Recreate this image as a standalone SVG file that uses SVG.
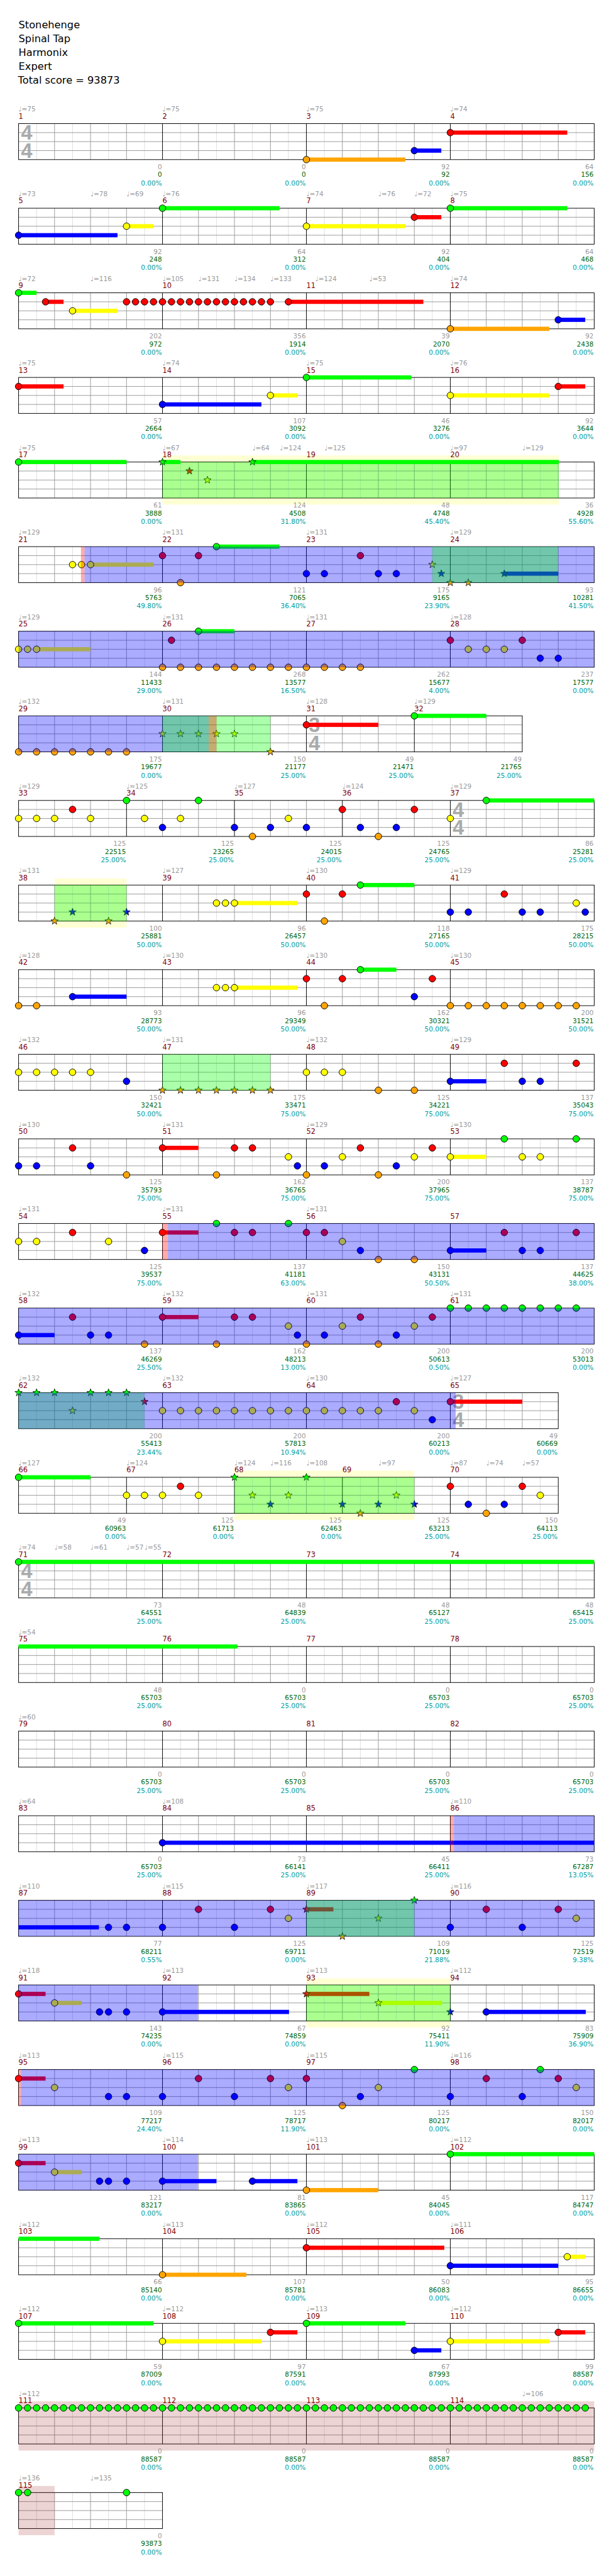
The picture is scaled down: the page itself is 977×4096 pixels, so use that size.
<svg xmlns="http://www.w3.org/2000/svg" width="977" height="4096" viewBox="0 0 977 4096">
<style>
.tt{font-family:"DejaVu Sans",sans-serif;font-size:17px;fill:#000}
.tp{font-family:"DejaVu Sans",sans-serif;font-size:11px;fill:#999}
.mn{font-family:"DejaVu Sans",sans-serif;font-size:12px;fill:#800000}
.sc{font-family:"DejaVu Sans",sans-serif;font-size:11px;text-anchor:end}
.g1{fill:#999}.g2{fill:#006400}.g3{fill:#009c9c}
.ts{font-family:"Liberation Sans",sans-serif;font-size:34px;font-weight:bold;fill:#aaa}
.bG{fill:#0f0}.bR{fill:#f00}.bY{fill:#ff0}.bB{fill:#00f}.bO{fill:#ffa500}
.ob{fill:#00f;fill-opacity:.33}.og{fill:#0f0;fill-opacity:.33}.or{fill:#f00;fill-opacity:.33}
.yl{fill:#ffffd4}.pk{fill:#a52a2a;fill-opacity:.2}
</style>
<defs>
<circle id="nG" r="5.5" fill="#0f0" stroke="#000"/>
<circle id="nR" r="5.5" fill="#f00" stroke="#000"/>
<circle id="nY" r="5.5" fill="#ff0" stroke="#000"/>
<circle id="nB" r="5.5" fill="#00f" stroke="#000"/>
<circle id="nO" r="5.5" fill="#ffa500" stroke="#000"/>
<path id="st" d="M0,-6.5L1.53,-2.1L6.18,-2.01L2.47,0.8L3.82,5.26L0,2.6L-3.82,5.26L-2.47,0.8L-6.18,-2.01L-1.53,-2.1Z" stroke="#000" stroke-width="0.8"/>
<use id="sG" href="#st" fill="#0f0"/>
<use id="sR" href="#st" fill="#f00"/>
<use id="sY" href="#st" fill="#ff0"/>
<use id="sB" href="#st" fill="#00f"/>
<use id="sO" href="#st" fill="#ffa500"/>
<g id="g4">
<path d="M30,0V60M90,0V60M150,0V60M210,0V60" stroke="#ddd"/>
<path d="M60,0V60M120,0V60M180,0V60M0,15H240M0,30H240M0,45H240" stroke="#999"/>
</g>
<g id="g3">
<path d="M30,0V60M90,0V60M150,0V60" stroke="#ddd"/>
<path d="M60,0V60M120,0V60M0,15H180M0,30H180M0,45H180" stroke="#999"/>
</g>
<g id="row4">
<use href="#g4"/><use href="#g4" x="240"/><use href="#g4" x="480"/><use href="#g4" x="720"/>
<path d="M240,0V60M480,0V60M720,0V60" stroke="#000"/>
<rect width="960" height="60" fill="none" stroke="#000"/>
</g>
</defs>
<rect width="977" height="4096" fill="#fff"/>
<g transform="scale(0.9541)">
<g id="title" class="tt">
<text x="31" y="47">Stonehenge</text>
<text x="31" y="70">Spinal Tap</text>
<text x="31" y="93">Harmonix</text>
<text x="31" y="116">Expert</text>
<text x="30" y="139">Total score = 93873</text>
</g>

<g id="row1" transform="translate(0,206)">
<use href="#row4" x="31"/>
<text class="ts" x="35" y="27">4</text><text class="ts" x="35" y="57">4</text>
<text class="tp" y="-20"><tspan x="31">♩=75</tspan><tspan x="271">♩=75</tspan><tspan x="511">♩=75</tspan><tspan x="751">♩=74</tspan></text>
<text class="mn" y="-8"><tspan x="31">1</tspan><tspan x="271">2</tspan><tspan x="511">3</tspan><tspan x="751">4</tspan></text>
<rect class="bO" x="511" y="56.5" width="165" height="7"/><use href="#nO" x="511" y="60"/>
<rect class="bB" x="691" y="41.5" width="45" height="7"/><use href="#nB" x="691" y="45"/>
<rect class="bR" x="751" y="11.5" width="195" height="7"/><use href="#nR" x="751" y="15"/>
<text class="sc"><tspan class="g1" x="270" y="76">0</tspan><tspan class="g2" x="270" y="89">0</tspan><tspan class="g3" x="270" y="103">0.00%</tspan><tspan class="g1" x="510" y="76">0</tspan><tspan class="g2" x="510" y="89">0</tspan><tspan class="g3" x="510" y="103">0.00%</tspan><tspan class="g1" x="750" y="76">92</tspan><tspan class="g2" x="750" y="89">92</tspan><tspan class="g3" x="750" y="103">0.00%</tspan><tspan class="g1" x="990" y="76">64</tspan><tspan class="g2" x="990" y="89">156</tspan><tspan class="g3" x="990" y="103">0.00%</tspan></text>
</g>

<g id="row2" transform="translate(0,347)">
<use href="#row4" x="31"/>
<text class="tp" y="-20"><tspan x="31">♩=73</tspan><tspan x="151">♩=78</tspan><tspan x="211">♩=69</tspan><tspan x="271">♩=76</tspan><tspan x="511">♩=74</tspan><tspan x="631">♩=76</tspan><tspan x="691">♩=72</tspan><tspan x="751">♩=75</tspan></text>
<text class="mn" y="-8"><tspan x="31">5</tspan><tspan x="271">6</tspan><tspan x="511">7</tspan><tspan x="751">8</tspan></text>
<rect class="bB" x="31" y="41.5" width="165" height="7"/><use href="#nB" x="31" y="45"/>
<rect class="bY" x="211" y="26.5" width="45" height="7"/><use href="#nY" x="211" y="30"/>
<rect class="bG" x="271" y="-3.5" width="195" height="7"/><use href="#nG" x="271" y="0"/>
<rect class="bY" x="511" y="26.5" width="165" height="7"/><use href="#nY" x="511" y="30"/>
<rect class="bR" x="691" y="11.5" width="45" height="7"/><use href="#nR" x="691" y="15"/>
<rect class="bG" x="751" y="-3.5" width="195" height="7"/><use href="#nG" x="751" y="0"/>
<text class="sc"><tspan class="g1" x="270" y="76">92</tspan><tspan class="g2" x="270" y="89">248</tspan><tspan class="g3" x="270" y="103">0.00%</tspan><tspan class="g1" x="510" y="76">64</tspan><tspan class="g2" x="510" y="89">312</tspan><tspan class="g3" x="510" y="103">0.00%</tspan><tspan class="g1" x="750" y="76">92</tspan><tspan class="g2" x="750" y="89">404</tspan><tspan class="g3" x="750" y="103">0.00%</tspan><tspan class="g1" x="990" y="76">64</tspan><tspan class="g2" x="990" y="89">468</tspan><tspan class="g3" x="990" y="103">0.00%</tspan></text>
</g>

<g id="row3" transform="translate(0,488)">
<use href="#row4" x="31"/>
<text class="tp" y="-20"><tspan x="31">♩=72</tspan><tspan x="151">♩=116</tspan><tspan x="271">♩=105</tspan><tspan x="331">♩=131</tspan><tspan x="391">♩=134</tspan><tspan x="451">♩=133</tspan><tspan x="526">♩=124</tspan><tspan x="616">♩=53</tspan><tspan x="751">♩=74</tspan></text>
<text class="mn" y="-8"><tspan x="31">9</tspan><tspan x="271">10</tspan><tspan x="511">11</tspan><tspan x="751">12</tspan></text>
<rect class="bG" x="31" y="-3.5" width="30" height="7"/><use href="#nG" x="31" y="0"/>
<rect class="bR" x="76" y="11.5" width="30" height="7"/><use href="#nR" x="76" y="15"/>
<rect class="bY" x="121" y="26.5" width="75" height="7"/><use href="#nY" x="121" y="30"/>
<use href="#nR" x="211" y="15"/><use href="#nR" x="226" y="15"/><use href="#nR" x="241" y="15"/><use href="#nR" x="256" y="15"/><use href="#nR" x="271" y="15"/><use href="#nR" x="286" y="15"/><use href="#nR" x="301" y="15"/><use href="#nR" x="316" y="15"/><use href="#nR" x="331" y="15"/><use href="#nR" x="346" y="15"/><use href="#nR" x="361" y="15"/><use href="#nR" x="376" y="15"/><use href="#nR" x="391" y="15"/><use href="#nR" x="406" y="15"/><use href="#nR" x="421" y="15"/><use href="#nR" x="436" y="15"/><use href="#nR" x="451" y="15"/>
<rect class="bR" x="481" y="11.5" width="225" height="7"/><use href="#nR" x="481" y="15"/>
<rect class="bO" x="751" y="56.5" width="165" height="7"/><use href="#nO" x="751" y="60"/>
<rect class="bB" x="931" y="41.5" width="45" height="7"/><use href="#nB" x="931" y="45"/>
<text class="sc"><tspan class="g1" x="270" y="76">202</tspan><tspan class="g2" x="270" y="89">972</tspan><tspan class="g3" x="270" y="103">0.00%</tspan><tspan class="g1" x="510" y="76">356</tspan><tspan class="g2" x="510" y="89">1914</tspan><tspan class="g3" x="510" y="103">0.00%</tspan><tspan class="g1" x="750" y="76">39</tspan><tspan class="g2" x="750" y="89">2070</tspan><tspan class="g3" x="750" y="103">0.00%</tspan><tspan class="g1" x="990" y="76">92</tspan><tspan class="g2" x="990" y="89">2438</tspan><tspan class="g3" x="990" y="103">0.00%</tspan></text>
</g>

<g id="row4r" transform="translate(0,629)">
<use href="#row4" x="31"/>
<text class="tp" y="-20"><tspan x="31">♩=75</tspan><tspan x="271">♩=74</tspan><tspan x="511">♩=75</tspan><tspan x="751">♩=76</tspan></text>
<text class="mn" y="-8"><tspan x="31">13</tspan><tspan x="271">14</tspan><tspan x="511">15</tspan><tspan x="751">16</tspan></text>
<rect class="bR" x="31" y="11.5" width="75" height="7"/><use href="#nR" x="31" y="15"/>
<rect class="bB" x="271" y="41.5" width="165" height="7"/><use href="#nB" x="271" y="45"/>
<rect class="bY" x="451" y="26.5" width="45" height="7"/><use href="#nY" x="451" y="30"/>
<rect class="bG" x="511" y="-3.5" width="175" height="7"/><use href="#nG" x="511" y="0"/>
<rect class="bY" x="751" y="26.5" width="165" height="7"/><use href="#nY" x="751" y="30"/>
<rect class="bR" x="931" y="11.5" width="45" height="7"/><use href="#nR" x="931" y="15"/>
<text class="sc"><tspan class="g1" x="270" y="76">57</tspan><tspan class="g2" x="270" y="89">2664</tspan><tspan class="g3" x="270" y="103">0.00%</tspan><tspan class="g1" x="510" y="76">107</tspan><tspan class="g2" x="510" y="89">3092</tspan><tspan class="g3" x="510" y="103">0.00%</tspan><tspan class="g1" x="750" y="76">46</tspan><tspan class="g2" x="750" y="89">3276</tspan><tspan class="g3" x="750" y="103">0.00%</tspan><tspan class="g1" x="990" y="76">92</tspan><tspan class="g2" x="990" y="89">3644</tspan><tspan class="g3" x="990" y="103">0.00%</tspan></text>
</g>

<g id="row5" transform="translate(0,770)">
<rect class="yl" x="271" y="-11" width="661" height="82"/>
<use href="#row4" x="31"/>
<text class="tp" y="-20"><tspan x="31">♩=75</tspan><tspan x="271">♩=67</tspan><tspan x="421">♩=64</tspan><tspan x="467">♩=124</tspan><tspan x="541">♩=125</tspan><tspan x="751">♩=97</tspan><tspan x="871">♩=129</tspan></text>
<text class="mn" y="-8"><tspan x="31">17</tspan><tspan x="271">18</tspan><tspan x="511">19</tspan><tspan x="751">20</tspan></text>
<rect class="bG" x="31" y="-3.5" width="180" height="7"/><use href="#nG" x="31" y="0"/>
<rect class="bG" x="271" y="-3.5" width="30" height="7"/><use href="#sG" x="271" y="0"/>
<use href="#sR" x="316" y="15"/><use href="#sY" x="346" y="30"/>
<rect class="bG" x="421" y="-3.5" width="511" height="7"/><use href="#sG" x="421" y="0"/>
<rect class="og" x="271" y="0" width="661" height="60"/>
<text class="sc"><tspan class="g1" x="270" y="76">61</tspan><tspan class="g2" x="270" y="89">3888</tspan><tspan class="g3" x="270" y="103">0.00%</tspan><tspan class="g1" x="510" y="76">124</tspan><tspan class="g2" x="510" y="89">4508</tspan><tspan class="g3" x="510" y="103">31.80%</tspan><tspan class="g1" x="750" y="76">48</tspan><tspan class="g2" x="750" y="89">4748</tspan><tspan class="g3" x="750" y="103">45.40%</tspan><tspan class="g1" x="990" y="76">36</tspan><tspan class="g2" x="990" y="89">4928</tspan><tspan class="g3" x="990" y="103">55.60%</tspan></text>
</g>

<g id="row6" transform="translate(0,911)">
<use href="#row4" x="31"/>
<text class="tp" y="-20"><tspan x="31">♩=129</tspan><tspan x="271">♩=131</tspan><tspan x="511">♩=131</tspan><tspan x="751">♩=129</tspan></text>
<text class="mn" y="-8"><tspan x="31">21</tspan><tspan x="271">22</tspan><tspan x="511">23</tspan><tspan x="751">24</tspan></text>
<use href="#nY" x="121" y="30"/><use href="#nY" x="136" y="30"/>
<rect class="bY" x="151" y="26.5" width="105" height="7"/><use href="#nY" x="151" y="30"/>
<use href="#nR" x="271" y="15"/><use href="#nR" x="331" y="15"/><use href="#nO" x="301" y="60"/>
<rect class="bG" x="361" y="-3.5" width="105" height="7"/><use href="#nG" x="361" y="0"/>
<use href="#nR" x="601" y="15"/>
<use href="#nB" x="511" y="45"/><use href="#nB" x="541" y="45"/><use href="#nB" x="631" y="45"/><use href="#nB" x="661" y="45"/>
<use href="#sY" x="721" y="30"/><use href="#sB" x="736" y="45"/><use href="#sO" x="751" y="60"/><use href="#sO" x="781" y="60"/>
<rect class="bB" x="841" y="41.5" width="90" height="7"/><use href="#sB" x="841" y="45"/>
<rect class="or" x="135" y="0" width="6" height="60"/>
<rect class="ob" x="141" y="0" width="850" height="60"/>
<rect class="og" x="721" y="0" width="210" height="60"/>
<text class="sc"><tspan class="g1" x="270" y="76">96</tspan><tspan class="g2" x="270" y="89">5763</tspan><tspan class="g3" x="270" y="103">49.80%</tspan><tspan class="g1" x="510" y="76">121</tspan><tspan class="g2" x="510" y="89">7065</tspan><tspan class="g3" x="510" y="103">36.40%</tspan><tspan class="g1" x="750" y="76">175</tspan><tspan class="g2" x="750" y="89">9165</tspan><tspan class="g3" x="750" y="103">23.90%</tspan><tspan class="g1" x="990" y="76">93</tspan><tspan class="g2" x="990" y="89">10281</tspan><tspan class="g3" x="990" y="103">41.50%</tspan></text>
</g>

<g id="row7" transform="translate(0,1052)">
<use href="#row4" x="31"/>
<text class="tp" y="-20"><tspan x="31">♩=129</tspan><tspan x="271">♩=131</tspan><tspan x="511">♩=131</tspan><tspan x="751">♩=128</tspan></text>
<text class="mn" y="-8"><tspan x="31">25</tspan><tspan x="271">26</tspan><tspan x="511">27</tspan><tspan x="751">28</tspan></text>
<use href="#nY" x="31" y="30"/><use href="#nY" x="46" y="30"/>
<rect class="bY" x="61" y="26.5" width="90" height="7"/><use href="#nY" x="61" y="30"/>
<use href="#nR" x="286" y="15"/>
<rect class="bG" x="331" y="-3.5" width="60" height="7"/><use href="#nG" x="331" y="0"/>
<use href="#nO" x="271" y="60"/><use href="#nO" x="301" y="60"/><use href="#nO" x="331" y="60"/><use href="#nO" x="361" y="60"/><use href="#nO" x="391" y="60"/><use href="#nO" x="421" y="60"/><use href="#nO" x="451" y="60"/><use href="#nO" x="481" y="60"/>
<use href="#nO" x="511" y="60"/><use href="#nO" x="541" y="60"/><use href="#nO" x="571" y="60"/><use href="#nO" x="601" y="60"/>
<use href="#nR" x="751" y="15"/><use href="#nY" x="781" y="30"/><use href="#nY" x="811" y="30"/><use href="#nY" x="841" y="30"/><use href="#nR" x="871" y="15"/><use href="#nB" x="901" y="45"/><use href="#nB" x="931" y="45"/>
<rect class="ob" x="31" y="0" width="960" height="60"/>
<text class="sc"><tspan class="g1" x="270" y="76">144</tspan><tspan class="g2" x="270" y="89">11433</tspan><tspan class="g3" x="270" y="103">29.00%</tspan><tspan class="g1" x="510" y="76">268</tspan><tspan class="g2" x="510" y="89">13577</tspan><tspan class="g3" x="510" y="103">16.50%</tspan><tspan class="g1" x="750" y="76">262</tspan><tspan class="g2" x="750" y="89">15677</tspan><tspan class="g3" x="750" y="103">4.00%</tspan><tspan class="g1" x="990" y="76">237</tspan><tspan class="g2" x="990" y="89">17577</tspan><tspan class="g3" x="990" y="103">0.00%</tspan></text>
</g>

<g id="row8" transform="translate(0,1193)">
<use href="#g4" x="31"/><use href="#g4" x="271"/><use href="#g3" x="511"/><use href="#g3" x="691"/>
<path d="M271,0V60M511,0V60M691,0V60" stroke="#000"/>
<rect x="31" width="840" height="60" fill="none" stroke="#000"/>
<text class="ts" x="515" y="27">3</text><text class="ts" x="515" y="57">4</text>
<text class="tp" y="-20"><tspan x="31">♩=132</tspan><tspan x="271">♩=131</tspan><tspan x="511">♩=128</tspan><tspan x="691">♩=129</tspan></text>
<text class="mn" y="-8"><tspan x="31">29</tspan><tspan x="271">30</tspan><tspan x="511">31</tspan><tspan x="691">32</tspan></text>
<use href="#nO" x="31" y="60"/><use href="#nO" x="61" y="60"/><use href="#nO" x="91" y="60"/><use href="#nO" x="121" y="60"/><use href="#nO" x="151" y="60"/><use href="#nO" x="181" y="60"/><use href="#nO" x="211" y="60"/>
<use href="#sY" x="271" y="30"/><use href="#sY" x="301" y="30"/><use href="#sY" x="331" y="30"/><use href="#sY" x="361" y="30"/><use href="#sY" x="391" y="30"/><use href="#sO" x="451" y="60"/>
<rect class="bR" x="511" y="11.5" width="120" height="7"/><use href="#nR" x="511" y="15"/>
<rect class="bG" x="691" y="-3.5" width="120" height="7"/><use href="#nG" x="691" y="0"/>
<rect class="ob" x="31" y="0" width="317" height="60"/>
<rect class="og" x="271" y="0" width="180" height="60"/>
<rect class="or" x="348" y="0" width="13" height="60"/>
<text class="sc"><tspan class="g1" x="270" y="76">175</tspan><tspan class="g2" x="270" y="89">19677</tspan><tspan class="g3" x="270" y="103">0.00%</tspan><tspan class="g1" x="510" y="76">150</tspan><tspan class="g2" x="510" y="89">21177</tspan><tspan class="g3" x="510" y="103">25.00%</tspan><tspan class="g1" x="690" y="76">49</tspan><tspan class="g2" x="690" y="89">21471</tspan><tspan class="g3" x="690" y="103">25.00%</tspan><tspan class="g1" x="870" y="76">49</tspan><tspan class="g2" x="870" y="89">21765</tspan><tspan class="g3" x="870" y="103">25.00%</tspan></text>
</g>

<g id="row9" transform="translate(0,1334)">
<use href="#g3" x="31"/><use href="#g3" x="211"/><use href="#g3" x="391"/><use href="#g3" x="571"/><use href="#g4" x="751"/>
<path d="M211,0V60M391,0V60M571,0V60M751,0V60" stroke="#000"/>
<rect x="31" width="960" height="60" fill="none" stroke="#000"/>
<text class="ts" x="755" y="27">4</text><text class="ts" x="755" y="57">4</text>
<text class="tp" y="-20"><tspan x="31">♩=129</tspan><tspan x="211">♩=125</tspan><tspan x="391">♩=127</tspan><tspan x="571">♩=124</tspan><tspan x="751">♩=129</tspan></text>
<text class="mn" y="-8"><tspan x="31">33</tspan><tspan x="211">34</tspan><tspan x="391">35</tspan><tspan x="571">36</tspan><tspan x="751">37</tspan></text>
<use href="#nY" x="31" y="30"/><use href="#nY" x="61" y="30"/><use href="#nY" x="91" y="30"/><use href="#nR" x="121" y="15"/><use href="#nY" x="151" y="30"/>
<use href="#nG" x="211" y="0"/><use href="#nY" x="241" y="30"/><use href="#nB" x="271" y="45"/><use href="#nY" x="301" y="30"/><use href="#nG" x="331" y="0"/>
<use href="#nB" x="391" y="45"/><use href="#nO" x="421" y="60"/><use href="#nB" x="451" y="45"/><use href="#nY" x="481" y="30"/><use href="#nB" x="511" y="45"/>
<use href="#nR" x="571" y="15"/><use href="#nB" x="601" y="45"/><use href="#nO" x="631" y="60"/><use href="#nB" x="661" y="45"/><use href="#nR" x="691" y="15"/>
<use href="#nY" x="751" y="30"/>
<rect class="bG" x="811" y="-3.5" width="180" height="7"/><use href="#nG" x="811" y="0"/>
<text class="sc"><tspan class="g1" x="210" y="76">125</tspan><tspan class="g2" x="210" y="89">22515</tspan><tspan class="g3" x="210" y="103">25.00%</tspan><tspan class="g1" x="390" y="76">125</tspan><tspan class="g2" x="390" y="89">23265</tspan><tspan class="g3" x="390" y="103">25.00%</tspan><tspan class="g1" x="570" y="76">125</tspan><tspan class="g2" x="570" y="89">24015</tspan><tspan class="g3" x="570" y="103">25.00%</tspan><tspan class="g1" x="750" y="76">125</tspan><tspan class="g2" x="750" y="89">24765</tspan><tspan class="g3" x="750" y="103">25.00%</tspan><tspan class="g1" x="990" y="76">86</tspan><tspan class="g2" x="990" y="89">25281</tspan><tspan class="g3" x="990" y="103">25.00%</tspan></text>
</g>

<g id="row10" transform="translate(0,1475)">
<rect class="yl" x="91" y="-11" width="120" height="82"/>
<use href="#row4" x="31"/>
<text class="tp" y="-20"><tspan x="31">♩=131</tspan><tspan x="271">♩=127</tspan><tspan x="511">♩=130</tspan><tspan x="751">♩=129</tspan></text>
<text class="mn" y="-8"><tspan x="31">38</tspan><tspan x="271">39</tspan><tspan x="511">40</tspan><tspan x="751">41</tspan></text>
<use href="#sO" x="91" y="60"/><use href="#sB" x="121" y="45"/><use href="#sO" x="181" y="60"/><use href="#sB" x="211" y="45"/>
<use href="#nY" x="361" y="30"/><use href="#nY" x="376" y="30"/>
<rect class="bY" x="391" y="26.5" width="105" height="7"/><use href="#nY" x="391" y="30"/>
<use href="#nR" x="511" y="15"/><use href="#nR" x="571" y="15"/><use href="#nO" x="541" y="60"/>
<rect class="bG" x="601" y="-3.5" width="90" height="7"/><use href="#nG" x="601" y="0"/>
<use href="#nB" x="751" y="45"/><use href="#nB" x="781" y="45"/><use href="#nR" x="841" y="15"/><use href="#nB" x="871" y="45"/><use href="#nB" x="901" y="45"/><use href="#nY" x="961" y="30"/><use href="#nB" x="976" y="45"/>
<rect class="og" x="91" y="0" width="120" height="60"/>
<text class="sc"><tspan class="g1" x="270" y="76">100</tspan><tspan class="g2" x="270" y="89">25881</tspan><tspan class="g3" x="270" y="103">50.00%</tspan><tspan class="g1" x="510" y="76">96</tspan><tspan class="g2" x="510" y="89">26457</tspan><tspan class="g3" x="510" y="103">50.00%</tspan><tspan class="g1" x="750" y="76">118</tspan><tspan class="g2" x="750" y="89">27165</tspan><tspan class="g3" x="750" y="103">50.00%</tspan><tspan class="g1" x="990" y="76">175</tspan><tspan class="g2" x="990" y="89">28215</tspan><tspan class="g3" x="990" y="103">50.00%</tspan></text>
</g>

<g id="row11" transform="translate(0,1616)">
<use href="#row4" x="31"/>
<text class="tp" y="-20"><tspan x="31">♩=128</tspan><tspan x="271">♩=130</tspan><tspan x="511">♩=130</tspan><tspan x="751">♩=130</tspan></text>
<text class="mn" y="-8"><tspan x="31">42</tspan><tspan x="271">43</tspan><tspan x="511">44</tspan><tspan x="751">45</tspan></text>
<use href="#nO" x="31" y="60"/><use href="#nO" x="61" y="60"/>
<rect class="bB" x="121" y="41.5" width="90" height="7"/><use href="#nB" x="121" y="45"/>
<use href="#nY" x="361" y="30"/><use href="#nY" x="376" y="30"/>
<rect class="bY" x="391" y="26.5" width="105" height="7"/><use href="#nY" x="391" y="30"/>
<use href="#nR" x="511" y="15"/><use href="#nR" x="571" y="15"/><use href="#nO" x="541" y="60"/>
<rect class="bG" x="601" y="-3.5" width="60" height="7"/><use href="#nG" x="601" y="0"/>
<use href="#nB" x="691" y="45"/><use href="#nR" x="721" y="15"/>
<use href="#nO" x="751" y="60"/><use href="#nO" x="781" y="60"/><use href="#nO" x="811" y="60"/><use href="#nO" x="841" y="60"/><use href="#nO" x="871" y="60"/><use href="#nO" x="901" y="60"/><use href="#nO" x="931" y="60"/><use href="#nO" x="961" y="60"/>
<text class="sc"><tspan class="g1" x="270" y="76">93</tspan><tspan class="g2" x="270" y="89">28773</tspan><tspan class="g3" x="270" y="103">50.00%</tspan><tspan class="g1" x="510" y="76">96</tspan><tspan class="g2" x="510" y="89">29349</tspan><tspan class="g3" x="510" y="103">50.00%</tspan><tspan class="g1" x="750" y="76">162</tspan><tspan class="g2" x="750" y="89">30321</tspan><tspan class="g3" x="750" y="103">50.00%</tspan><tspan class="g1" x="990" y="76">200</tspan><tspan class="g2" x="990" y="89">31521</tspan><tspan class="g3" x="990" y="103">50.00%</tspan></text>
</g>

<g id="row12" transform="translate(0,1757)">
<use href="#row4" x="31"/>
<text class="tp" y="-20"><tspan x="31">♩=132</tspan><tspan x="271">♩=131</tspan><tspan x="511">♩=132</tspan><tspan x="751">♩=129</tspan></text>
<text class="mn" y="-8"><tspan x="31">46</tspan><tspan x="271">47</tspan><tspan x="511">48</tspan><tspan x="751">49</tspan></text>
<use href="#nY" x="31" y="30"/><use href="#nY" x="61" y="30"/><use href="#nY" x="91" y="30"/><use href="#nY" x="121" y="30"/><use href="#nY" x="151" y="30"/><use href="#nB" x="211" y="45"/>
<use href="#sO" x="271" y="60"/><use href="#sO" x="301" y="60"/><use href="#sO" x="331" y="60"/><use href="#sO" x="361" y="60"/><use href="#sO" x="391" y="60"/><use href="#sO" x="421" y="60"/><use href="#sO" x="451" y="60"/>
<use href="#nY" x="511" y="30"/><use href="#nY" x="541" y="30"/><use href="#nY" x="571" y="30"/><use href="#nO" x="631" y="60"/><use href="#nO" x="691" y="60"/>
<rect class="bB" x="751" y="41.5" width="60" height="7"/><use href="#nB" x="751" y="45"/>
<use href="#nR" x="841" y="15"/><use href="#nB" x="871" y="45"/><use href="#nB" x="901" y="45"/><use href="#nR" x="961" y="15"/>
<rect class="og" x="271" y="0" width="180" height="60"/>
<text class="sc"><tspan class="g1" x="270" y="76">150</tspan><tspan class="g2" x="270" y="89">32421</tspan><tspan class="g3" x="270" y="103">50.00%</tspan><tspan class="g1" x="510" y="76">175</tspan><tspan class="g2" x="510" y="89">33471</tspan><tspan class="g3" x="510" y="103">75.00%</tspan><tspan class="g1" x="750" y="76">125</tspan><tspan class="g2" x="750" y="89">34221</tspan><tspan class="g3" x="750" y="103">75.00%</tspan><tspan class="g1" x="990" y="76">137</tspan><tspan class="g2" x="990" y="89">35043</tspan><tspan class="g3" x="990" y="103">75.00%</tspan></text>
</g>

<g id="row13" transform="translate(0,1898)">
<use href="#row4" x="31"/>
<text class="tp" y="-20"><tspan x="31">♩=130</tspan><tspan x="271">♩=131</tspan><tspan x="511">♩=129</tspan><tspan x="751">♩=130</tspan></text>
<text class="mn" y="-8"><tspan x="31">50</tspan><tspan x="271">51</tspan><tspan x="511">52</tspan><tspan x="751">53</tspan></text>
<use href="#nB" x="31" y="45"/><use href="#nB" x="61" y="45"/><use href="#nR" x="121" y="15"/><use href="#nB" x="151" y="45"/><use href="#nO" x="211" y="60"/>
<rect class="bR" x="271" y="11.5" width="60" height="7"/><use href="#nR" x="271" y="15"/>
<use href="#nO" x="361" y="60"/><use href="#nR" x="391" y="15"/><use href="#nR" x="421" y="15"/><use href="#nY" x="481" y="30"/><use href="#nB" x="496" y="45"/>
<use href="#nO" x="511" y="60"/><use href="#nB" x="541" y="45"/><use href="#nY" x="571" y="30"/><use href="#nR" x="601" y="15"/><use href="#nO" x="631" y="60"/><use href="#nB" x="661" y="45"/><use href="#nY" x="691" y="30"/><use href="#nR" x="721" y="15"/>
<rect class="bY" x="751" y="26.5" width="60" height="7"/><use href="#nY" x="751" y="30"/>
<use href="#nG" x="841" y="0"/><use href="#nY" x="871" y="30"/><use href="#nY" x="901" y="30"/><use href="#nG" x="961" y="0"/>
<text class="sc"><tspan class="g1" x="270" y="76">125</tspan><tspan class="g2" x="270" y="89">35793</tspan><tspan class="g3" x="270" y="103">75.00%</tspan><tspan class="g1" x="510" y="76">162</tspan><tspan class="g2" x="510" y="89">36765</tspan><tspan class="g3" x="510" y="103">75.00%</tspan><tspan class="g1" x="750" y="76">200</tspan><tspan class="g2" x="750" y="89">37965</tspan><tspan class="g3" x="750" y="103">75.00%</tspan><tspan class="g1" x="990" y="76">137</tspan><tspan class="g2" x="990" y="89">38787</tspan><tspan class="g3" x="990" y="103">75.00%</tspan></text>
</g>

<g id="row14" transform="translate(0,2039)">
<use href="#row4" x="31"/>
<text class="tp" y="-20"><tspan x="31">♩=131</tspan><tspan x="271">♩=131</tspan><tspan x="511">♩=131</tspan></text>
<text class="mn" y="-8"><tspan x="31">54</tspan><tspan x="271">55</tspan><tspan x="511">56</tspan><tspan x="751">57</tspan></text>
<use href="#nY" x="31" y="30"/><use href="#nY" x="61" y="30"/><use href="#nR" x="121" y="15"/><use href="#nY" x="181" y="30"/><use href="#nB" x="241" y="45"/>
<rect class="bR" x="271" y="11.5" width="60" height="7"/><use href="#nR" x="271" y="15"/>
<use href="#nG" x="361" y="0"/><use href="#nR" x="391" y="15"/><use href="#nR" x="421" y="15"/><use href="#nG" x="481" y="0"/>
<use href="#nR" x="511" y="15"/><use href="#nR" x="541" y="15"/><use href="#nY" x="571" y="30"/><use href="#nB" x="601" y="45"/><use href="#nO" x="631" y="60"/><use href="#nO" x="691" y="60"/>
<rect class="bB" x="751" y="41.5" width="60" height="7"/><use href="#nB" x="751" y="45"/>
<use href="#nR" x="841" y="15"/><use href="#nB" x="871" y="45"/><use href="#nB" x="901" y="45"/><use href="#nR" x="961" y="15"/>
<rect class="or" x="271" y="0" width="9" height="60"/>
<rect class="ob" x="280" y="0" width="711" height="60"/>
<text class="sc"><tspan class="g1" x="270" y="76">125</tspan><tspan class="g2" x="270" y="89">39537</tspan><tspan class="g3" x="270" y="103">75.00%</tspan><tspan class="g1" x="510" y="76">137</tspan><tspan class="g2" x="510" y="89">41181</tspan><tspan class="g3" x="510" y="103">63.00%</tspan><tspan class="g1" x="750" y="76">150</tspan><tspan class="g2" x="750" y="89">43131</tspan><tspan class="g3" x="750" y="103">50.50%</tspan><tspan class="g1" x="990" y="76">137</tspan><tspan class="g2" x="990" y="89">44625</tspan><tspan class="g3" x="990" y="103">38.00%</tspan></text>
</g>

<g id="row15" transform="translate(0,2180)">
<use href="#row4" x="31"/>
<text class="tp" y="-20"><tspan x="31">♩=132</tspan><tspan x="271">♩=132</tspan><tspan x="511">♩=131</tspan><tspan x="751">♩=131</tspan></text>
<text class="mn" y="-8"><tspan x="31">58</tspan><tspan x="271">59</tspan><tspan x="511">60</tspan><tspan x="751">61</tspan></text>
<rect class="bB" x="31" y="41.5" width="60" height="7"/><use href="#nB" x="31" y="45"/>
<use href="#nR" x="121" y="15"/><use href="#nB" x="151" y="45"/><use href="#nB" x="181" y="45"/><use href="#nO" x="241" y="60"/>
<rect class="bR" x="271" y="11.5" width="60" height="7"/><use href="#nR" x="271" y="15"/>
<use href="#nO" x="361" y="60"/><use href="#nR" x="391" y="15"/><use href="#nR" x="421" y="15"/><use href="#nY" x="481" y="30"/><use href="#nB" x="496" y="45"/>
<use href="#nO" x="511" y="60"/><use href="#nB" x="541" y="45"/><use href="#nY" x="571" y="30"/><use href="#nR" x="601" y="15"/><use href="#nO" x="631" y="60"/><use href="#nB" x="661" y="45"/><use href="#nY" x="691" y="30"/><use href="#nR" x="721" y="15"/>
<use href="#nG" x="751" y="0"/><use href="#nG" x="781" y="0"/><use href="#nG" x="811" y="0"/><use href="#nG" x="841" y="0"/><use href="#nG" x="871" y="0"/><use href="#nG" x="901" y="0"/><use href="#nG" x="931" y="0"/><use href="#nG" x="961" y="0"/>
<rect class="ob" x="31" y="0" width="960" height="60"/>
<text class="sc"><tspan class="g1" x="270" y="76">137</tspan><tspan class="g2" x="270" y="89">46269</tspan><tspan class="g3" x="270" y="103">25.50%</tspan><tspan class="g1" x="510" y="76">162</tspan><tspan class="g2" x="510" y="89">48213</tspan><tspan class="g3" x="510" y="103">13.00%</tspan><tspan class="g1" x="750" y="76">200</tspan><tspan class="g2" x="750" y="89">50613</tspan><tspan class="g3" x="750" y="103">0.50%</tspan><tspan class="g1" x="990" y="76">200</tspan><tspan class="g2" x="990" y="89">53013</tspan><tspan class="g3" x="990" y="103">0.00%</tspan></text>
</g>

<g id="row16" transform="translate(0,2321)">
<use href="#g4" x="31"/><use href="#g4" x="271"/><use href="#g4" x="511"/><use href="#g3" x="751"/>
<path d="M271,0V60M511,0V60M751,0V60" stroke="#000"/>
<rect x="31" width="900" height="60" fill="none" stroke="#000"/>
<text class="ts" x="755" y="27">3</text><text class="ts" x="755" y="57">4</text>
<text class="tp" y="-20"><tspan x="31">♩=132</tspan><tspan x="271">♩=132</tspan><tspan x="511">♩=130</tspan><tspan x="751">♩=127</tspan></text>
<text class="mn" y="-8"><tspan x="31">62</tspan><tspan x="271">63</tspan><tspan x="511">64</tspan><tspan x="751">65</tspan></text>
<use href="#sG" x="31" y="0"/><use href="#sG" x="61" y="0"/><use href="#sG" x="91" y="0"/><use href="#sG" x="151" y="0"/><use href="#sG" x="181" y="0"/><use href="#sG" x="211" y="0"/><use href="#sY" x="121" y="30"/><use href="#sR" x="241" y="15"/>
<use href="#nY" x="271" y="30"/><use href="#nY" x="301" y="30"/><use href="#nY" x="331" y="30"/><use href="#nY" x="361" y="30"/><use href="#nY" x="391" y="30"/><use href="#nY" x="421" y="30"/><use href="#nY" x="451" y="30"/><use href="#nY" x="481" y="30"/><use href="#nY" x="511" y="30"/><use href="#nY" x="541" y="30"/><use href="#nY" x="571" y="30"/><use href="#nY" x="601" y="30"/><use href="#nY" x="631" y="30"/><use href="#nY" x="691" y="30"/>
<use href="#nR" x="661" y="15"/><use href="#nB" x="721" y="45"/>
<rect class="bR" x="751" y="11.5" width="120" height="7"/><use href="#nR" x="751" y="15"/>
<rect class="og" x="31" y="0" width="210" height="60"/>
<rect class="ob" x="31" y="0" width="729" height="60"/>
<text class="sc"><tspan class="g1" x="270" y="76">200</tspan><tspan class="g2" x="270" y="89">55413</tspan><tspan class="g3" x="270" y="103">23.44%</tspan><tspan class="g1" x="510" y="76">200</tspan><tspan class="g2" x="510" y="89">57813</tspan><tspan class="g3" x="510" y="103">10.94%</tspan><tspan class="g1" x="750" y="76">200</tspan><tspan class="g2" x="750" y="89">60213</tspan><tspan class="g3" x="750" y="103">0.00%</tspan><tspan class="g1" x="930" y="76">49</tspan><tspan class="g2" x="930" y="89">60669</tspan><tspan class="g3" x="930" y="103">0.00%</tspan></text>
</g>

<g id="row17" transform="translate(0,2462)">
<rect class="yl" x="391" y="-11" width="300" height="82"/>
<use href="#g3" x="31"/><use href="#g3" x="211"/><use href="#g3" x="391"/><use href="#g3" x="571"/><use href="#g3" x="751"/>
<path d="M211,0V60M391,0V60M571,0V60M751,0V60" stroke="#000"/>
<rect x="31" width="900" height="60" fill="none" stroke="#000"/>
<text class="tp" y="-20"><tspan x="31">♩=127</tspan><tspan x="211">♩=124</tspan><tspan x="391">♩=124</tspan><tspan x="451">♩=116</tspan><tspan x="511">♩=108</tspan><tspan x="631">♩=97</tspan><tspan x="751">♩=87</tspan><tspan x="811">♩=74</tspan><tspan x="871">♩=57</tspan></text>
<text class="mn" y="-8"><tspan x="31">66</tspan><tspan x="211">67</tspan><tspan x="391">68</tspan><tspan x="571">69</tspan><tspan x="751">70</tspan></text>
<rect class="bG" x="31" y="-3.5" width="120" height="7"/><use href="#nG" x="31" y="0"/>
<use href="#nY" x="211" y="30"/><use href="#nY" x="241" y="30"/><use href="#nY" x="271" y="30"/><use href="#nR" x="301" y="15"/><use href="#nY" x="331" y="30"/>
<use href="#sG" x="391" y="0"/><use href="#sY" x="421" y="30"/><use href="#sB" x="451" y="45"/><use href="#sY" x="481" y="30"/><use href="#sG" x="511" y="0"/><use href="#sB" x="571" y="45"/><use href="#sO" x="601" y="60"/><use href="#sB" x="631" y="45"/><use href="#sY" x="661" y="30"/><use href="#sB" x="691" y="45"/>
<use href="#nR" x="751" y="15"/><use href="#nB" x="781" y="45"/><use href="#nO" x="811" y="60"/><use href="#nB" x="841" y="45"/><use href="#nR" x="871" y="15"/><use href="#nY" x="901" y="30"/>
<rect class="og" x="391" y="0" width="300" height="60"/>
<text class="sc"><tspan class="g1" x="210" y="76">49</tspan><tspan class="g2" x="210" y="89">60963</tspan><tspan class="g3" x="210" y="103">0.00%</tspan><tspan class="g1" x="390" y="76">125</tspan><tspan class="g2" x="390" y="89">61713</tspan><tspan class="g3" x="390" y="103">0.00%</tspan><tspan class="g1" x="570" y="76">125</tspan><tspan class="g2" x="570" y="89">62463</tspan><tspan class="g3" x="570" y="103">0.00%</tspan><tspan class="g1" x="750" y="76">125</tspan><tspan class="g2" x="750" y="89">63213</tspan><tspan class="g3" x="750" y="103">25.00%</tspan><tspan class="g1" x="930" y="76">150</tspan><tspan class="g2" x="930" y="89">64113</tspan><tspan class="g3" x="930" y="103">25.00%</tspan></text>
</g>

<g id="row18" transform="translate(0,2603)">
<use href="#row4" x="31"/>
<text class="ts" x="35" y="27">4</text><text class="ts" x="35" y="57">4</text>
<text class="tp" y="-20"><tspan x="31">♩=74</tspan><tspan x="91">♩=58</tspan><tspan x="151">♩=61</tspan><tspan x="211">♩=57</tspan><tspan x="241">♩=55</tspan></text>
<text class="mn" y="-8"><tspan x="31">71</tspan><tspan x="271">72</tspan><tspan x="511">73</tspan><tspan x="751">74</tspan></text>
<rect class="bG" x="31" y="-3.5" width="960" height="7"/><use href="#nG" x="31" y="0"/>
<text class="sc"><tspan class="g1" x="270" y="76">73</tspan><tspan class="g2" x="270" y="89">64551</tspan><tspan class="g3" x="270" y="103">25.00%</tspan><tspan class="g1" x="510" y="76">48</tspan><tspan class="g2" x="510" y="89">64839</tspan><tspan class="g3" x="510" y="103">25.00%</tspan><tspan class="g1" x="750" y="76">48</tspan><tspan class="g2" x="750" y="89">65127</tspan><tspan class="g3" x="750" y="103">25.00%</tspan><tspan class="g1" x="990" y="76">48</tspan><tspan class="g2" x="990" y="89">65415</tspan><tspan class="g3" x="990" y="103">25.00%</tspan></text>
</g>

<g id="row19" transform="translate(0,2744)">
<use href="#row4" x="31"/>
<text class="tp" y="-20"><tspan x="31">♩=54</tspan></text>
<text class="mn" y="-8"><tspan x="31">75</tspan><tspan x="271">76</tspan><tspan x="511">77</tspan><tspan x="751">78</tspan></text>
<rect class="bG" x="31" y="-3.5" width="365" height="7"/>
<text class="sc"><tspan class="g1" x="270" y="76">48</tspan><tspan class="g2" x="270" y="89">65703</tspan><tspan class="g3" x="270" y="103">25.00%</tspan><tspan class="g1" x="510" y="76">0</tspan><tspan class="g2" x="510" y="89">65703</tspan><tspan class="g3" x="510" y="103">25.00%</tspan><tspan class="g1" x="750" y="76">0</tspan><tspan class="g2" x="750" y="89">65703</tspan><tspan class="g3" x="750" y="103">25.00%</tspan><tspan class="g1" x="990" y="76">0</tspan><tspan class="g2" x="990" y="89">65703</tspan><tspan class="g3" x="990" y="103">25.00%</tspan></text>
</g>

<g id="row20" transform="translate(0,2885)">
<use href="#row4" x="31"/>
<text class="tp" y="-20"><tspan x="31">♩=60</tspan></text>
<text class="mn" y="-8"><tspan x="31">79</tspan><tspan x="271">80</tspan><tspan x="511">81</tspan><tspan x="751">82</tspan></text>
<text class="sc"><tspan class="g1" x="270" y="76">0</tspan><tspan class="g2" x="270" y="89">65703</tspan><tspan class="g3" x="270" y="103">25.00%</tspan><tspan class="g1" x="510" y="76">0</tspan><tspan class="g2" x="510" y="89">65703</tspan><tspan class="g3" x="510" y="103">25.00%</tspan><tspan class="g1" x="750" y="76">0</tspan><tspan class="g2" x="750" y="89">65703</tspan><tspan class="g3" x="750" y="103">25.00%</tspan><tspan class="g1" x="990" y="76">0</tspan><tspan class="g2" x="990" y="89">65703</tspan><tspan class="g3" x="990" y="103">25.00%</tspan></text>
</g>

<g id="row21" transform="translate(0,3026)">
<use href="#row4" x="31"/>
<text class="tp" y="-20"><tspan x="31">♩=64</tspan><tspan x="271">♩=108</tspan><tspan x="751">♩=110</tspan></text>
<text class="mn" y="-8"><tspan x="31">83</tspan><tspan x="271">84</tspan><tspan x="511">85</tspan><tspan x="751">86</tspan></text>
<rect class="bB" x="271" y="41.5" width="720" height="7"/><use href="#nB" x="271" y="45"/>
<rect class="or" x="751" y="0" width="6" height="60"/>
<rect class="ob" x="757" y="0" width="234" height="60"/>
<text class="sc"><tspan class="g1" x="270" y="76">0</tspan><tspan class="g2" x="270" y="89">65703</tspan><tspan class="g3" x="270" y="103">25.00%</tspan><tspan class="g1" x="510" y="76">73</tspan><tspan class="g2" x="510" y="89">66141</tspan><tspan class="g3" x="510" y="103">25.00%</tspan><tspan class="g1" x="750" y="76">45</tspan><tspan class="g2" x="750" y="89">66411</tspan><tspan class="g3" x="750" y="103">25.00%</tspan><tspan class="g1" x="990" y="76">73</tspan><tspan class="g2" x="990" y="89">67287</tspan><tspan class="g3" x="990" y="103">13.05%</tspan></text>
</g>

<g id="row22" transform="translate(0,3167)">
<use href="#row4" x="31"/>
<text class="tp" y="-20"><tspan x="31">♩=110</tspan><tspan x="271">♩=115</tspan><tspan x="511">♩=117</tspan><tspan x="751">♩=116</tspan></text>
<text class="mn" y="-8"><tspan x="31">87</tspan><tspan x="271">88</tspan><tspan x="511">89</tspan><tspan x="751">90</tspan></text>
<rect class="bB" x="31" y="41.5" width="134" height="7"/>
<use href="#nB" x="181" y="45"/><use href="#nB" x="211" y="45"/><use href="#nB" x="271" y="45"/><use href="#nB" x="391" y="45"/>
<use href="#nR" x="331" y="15"/><use href="#nR" x="451" y="15"/><use href="#nY" x="481" y="30"/>
<rect class="bR" x="511" y="11.5" width="45" height="7"/><use href="#sR" x="511" y="15"/>
<use href="#sO" x="571" y="60"/><use href="#sY" x="631" y="30"/><use href="#sG" x="691" y="0"/>
<use href="#nB" x="751" y="45"/><use href="#nB" x="871" y="45"/><use href="#nR" x="811" y="15"/><use href="#nR" x="931" y="15"/><use href="#nY" x="961" y="30"/>
<rect class="ob" x="31" y="0" width="960" height="60"/>
<rect class="og" x="511" y="0" width="180" height="60"/>
<text class="sc"><tspan class="g1" x="270" y="76">77</tspan><tspan class="g2" x="270" y="89">68211</tspan><tspan class="g3" x="270" y="103">0.55%</tspan><tspan class="g1" x="510" y="76">125</tspan><tspan class="g2" x="510" y="89">69711</tspan><tspan class="g3" x="510" y="103">0.00%</tspan><tspan class="g1" x="750" y="76">109</tspan><tspan class="g2" x="750" y="89">71019</tspan><tspan class="g3" x="750" y="103">21.88%</tspan><tspan class="g1" x="990" y="76">125</tspan><tspan class="g2" x="990" y="89">72519</tspan><tspan class="g3" x="990" y="103">9.38%</tspan></text>
</g>

<g id="row23" transform="translate(0,3308)">
<rect class="yl" x="511" y="-11" width="240" height="82"/>
<use href="#row4" x="31"/>
<text class="tp" y="-20"><tspan x="31">♩=118</tspan><tspan x="271">♩=113</tspan><tspan x="511">♩=113</tspan><tspan x="751">♩=112</tspan></text>
<text class="mn" y="-8"><tspan x="31">91</tspan><tspan x="271">92</tspan><tspan x="511">93</tspan><tspan x="751">94</tspan></text>
<rect class="bR" x="31" y="11.5" width="45" height="7"/><use href="#nR" x="31" y="15"/>
<rect class="bY" x="91" y="26.5" width="45" height="7"/><use href="#nY" x="91" y="30"/>
<use href="#nB" x="166" y="45"/><use href="#nB" x="181" y="45"/><use href="#nB" x="211" y="45"/>
<rect class="bB" x="271" y="41.5" width="211" height="7"/><use href="#nB" x="271" y="45"/>
<rect class="bR" x="511" y="11.5" width="105" height="7"/><use href="#sR" x="511" y="15"/>
<rect class="bY" x="631" y="26.5" width="106" height="7"/><use href="#sY" x="631" y="30"/>
<use href="#sB" x="751" y="45"/>
<rect class="bB" x="811" y="41.5" width="166" height="7"/><use href="#nB" x="811" y="45"/>
<rect class="ob" x="31" y="0" width="299" height="60"/>
<rect class="og" x="511" y="0" width="240" height="60"/>
<text class="sc"><tspan class="g1" x="270" y="76">143</tspan><tspan class="g2" x="270" y="89">74235</tspan><tspan class="g3" x="270" y="103">0.00%</tspan><tspan class="g1" x="510" y="76">67</tspan><tspan class="g2" x="510" y="89">74859</tspan><tspan class="g3" x="510" y="103">0.00%</tspan><tspan class="g1" x="750" y="76">92</tspan><tspan class="g2" x="750" y="89">75411</tspan><tspan class="g3" x="750" y="103">11.90%</tspan><tspan class="g1" x="990" y="76">83</tspan><tspan class="g2" x="990" y="89">75909</tspan><tspan class="g3" x="990" y="103">36.90%</tspan></text>
</g>

<g id="row24" transform="translate(0,3449)">
<use href="#row4" x="31"/>
<text class="tp" y="-20"><tspan x="31">♩=113</tspan><tspan x="271">♩=115</tspan><tspan x="511">♩=115</tspan><tspan x="751">♩=116</tspan></text>
<text class="mn" y="-8"><tspan x="31">95</tspan><tspan x="271">96</tspan><tspan x="511">97</tspan><tspan x="751">98</tspan></text>
<rect class="bR" x="31" y="11.5" width="45" height="7"/><use href="#nR" x="31" y="15"/>
<use href="#nY" x="91" y="30"/><use href="#nB" x="181" y="45"/><use href="#nB" x="211" y="45"/><use href="#nB" x="271" y="45"/><use href="#nB" x="391" y="45"/>
<use href="#nR" x="331" y="15"/><use href="#nR" x="451" y="15"/><use href="#nY" x="481" y="30"/>
<use href="#nR" x="511" y="15"/><use href="#nO" x="571" y="60"/><use href="#nB" x="601" y="45"/><use href="#nY" x="631" y="30"/><use href="#nG" x="691" y="0"/>
<use href="#nB" x="751" y="45"/><use href="#nB" x="871" y="45"/><use href="#nR" x="811" y="15"/><use href="#nR" x="931" y="15"/><use href="#nG" x="901" y="0"/><use href="#nY" x="961" y="30"/>
<rect class="or" x="31" y="0" width="4" height="60"/>
<rect class="ob" x="35" y="0" width="956" height="60"/>
<text class="sc"><tspan class="g1" x="270" y="76">109</tspan><tspan class="g2" x="270" y="89">77217</tspan><tspan class="g3" x="270" y="103">24.40%</tspan><tspan class="g1" x="510" y="76">125</tspan><tspan class="g2" x="510" y="89">78717</tspan><tspan class="g3" x="510" y="103">11.90%</tspan><tspan class="g1" x="750" y="76">125</tspan><tspan class="g2" x="750" y="89">80217</tspan><tspan class="g3" x="750" y="103">0.00%</tspan><tspan class="g1" x="990" y="76">150</tspan><tspan class="g2" x="990" y="89">82017</tspan><tspan class="g3" x="990" y="103">0.00%</tspan></text>
</g>

<g id="row25" transform="translate(0,3590)">
<use href="#row4" x="31"/>
<text class="tp" y="-20"><tspan x="31">♩=113</tspan><tspan x="271">♩=114</tspan><tspan x="511">♩=113</tspan><tspan x="751">♩=112</tspan></text>
<text class="mn" y="-8"><tspan x="31">99</tspan><tspan x="271">100</tspan><tspan x="511">101</tspan><tspan x="751">102</tspan></text>
<rect class="bR" x="31" y="11.5" width="45" height="7"/><use href="#nR" x="31" y="15"/>
<rect class="bY" x="91" y="26.5" width="45" height="7"/><use href="#nY" x="91" y="30"/>
<use href="#nB" x="166" y="45"/><use href="#nB" x="181" y="45"/><use href="#nB" x="211" y="45"/>
<rect class="bB" x="271" y="41.5" width="90" height="7"/><use href="#nB" x="271" y="45"/>
<rect class="bB" x="421" y="41.5" width="75" height="7"/><use href="#nB" x="421" y="45"/>
<rect class="bO" x="511" y="56.5" width="120" height="7"/><use href="#nO" x="511" y="60"/>
<rect class="bG" x="751" y="-3.5" width="240" height="7"/><use href="#nG" x="751" y="0"/>
<rect class="ob" x="31" y="0" width="299" height="60"/>
<text class="sc"><tspan class="g1" x="270" y="76">121</tspan><tspan class="g2" x="270" y="89">83217</tspan><tspan class="g3" x="270" y="103">0.00%</tspan><tspan class="g1" x="510" y="76">81</tspan><tspan class="g2" x="510" y="89">83865</tspan><tspan class="g3" x="510" y="103">0.00%</tspan><tspan class="g1" x="750" y="76">45</tspan><tspan class="g2" x="750" y="89">84045</tspan><tspan class="g3" x="750" y="103">0.00%</tspan><tspan class="g1" x="990" y="76">117</tspan><tspan class="g2" x="990" y="89">84747</tspan><tspan class="g3" x="990" y="103">0.00%</tspan></text>
</g>

<g id="row26" transform="translate(0,3731)">
<use href="#row4" x="31"/>
<text class="tp" y="-20"><tspan x="31">♩=112</tspan><tspan x="271">♩=113</tspan><tspan x="511">♩=112</tspan><tspan x="751">♩=111</tspan></text>
<text class="mn" y="-8"><tspan x="31">103</tspan><tspan x="271">104</tspan><tspan x="511">105</tspan><tspan x="751">106</tspan></text>
<rect class="bG" x="31" y="-3.5" width="135" height="7"/>
<rect class="bO" x="271" y="56.5" width="140" height="7"/><use href="#nO" x="271" y="60"/>
<rect class="bR" x="511" y="11.5" width="230" height="7"/><use href="#nR" x="511" y="15"/>
<rect class="bB" x="751" y="41.5" width="180" height="7"/><use href="#nB" x="751" y="45"/>
<rect class="bY" x="946" y="26.5" width="30" height="7"/><use href="#nY" x="946" y="30"/>
<text class="sc"><tspan class="g1" x="270" y="76">66</tspan><tspan class="g2" x="270" y="89">85140</tspan><tspan class="g3" x="270" y="103">0.00%</tspan><tspan class="g1" x="510" y="76">107</tspan><tspan class="g2" x="510" y="89">85781</tspan><tspan class="g3" x="510" y="103">0.00%</tspan><tspan class="g1" x="750" y="76">50</tspan><tspan class="g2" x="750" y="89">86083</tspan><tspan class="g3" x="750" y="103">0.00%</tspan><tspan class="g1" x="990" y="76">95</tspan><tspan class="g2" x="990" y="89">86655</tspan><tspan class="g3" x="990" y="103">0.00%</tspan></text>
</g>

<g id="row27" transform="translate(0,3872)">
<use href="#row4" x="31"/>
<text class="tp" y="-20"><tspan x="31">♩=112</tspan><tspan x="271">♩=112</tspan><tspan x="511">♩=113</tspan><tspan x="751">♩=112</tspan></text>
<text class="mn" y="-8"><tspan x="31">107</tspan><tspan x="271">108</tspan><tspan x="511">109</tspan><tspan x="751">110</tspan></text>
<rect class="bG" x="31" y="-3.5" width="225" height="7"/><use href="#nG" x="31" y="0"/>
<rect class="bY" x="271" y="26.5" width="165" height="7"/><use href="#nY" x="271" y="30"/>
<rect class="bR" x="451" y="11.5" width="45" height="7"/><use href="#nR" x="451" y="15"/>
<rect class="bG" x="511" y="-3.5" width="165" height="7"/><use href="#nG" x="511" y="0"/>
<rect class="bB" x="691" y="41.5" width="45" height="7"/><use href="#nB" x="691" y="45"/>
<rect class="bY" x="751" y="26.5" width="165" height="7"/><use href="#nY" x="751" y="30"/>
<rect class="bR" x="931" y="11.5" width="45" height="7"/><use href="#nR" x="931" y="15"/>
<text class="sc"><tspan class="g1" x="270" y="76">59</tspan><tspan class="g2" x="270" y="89">87009</tspan><tspan class="g3" x="270" y="103">0.00%</tspan><tspan class="g1" x="510" y="76">97</tspan><tspan class="g2" x="510" y="89">87591</tspan><tspan class="g3" x="510" y="103">0.00%</tspan><tspan class="g1" x="750" y="76">67</tspan><tspan class="g2" x="750" y="89">87993</tspan><tspan class="g3" x="750" y="103">0.00%</tspan><tspan class="g1" x="990" y="76">99</tspan><tspan class="g2" x="990" y="89">88587</tspan><tspan class="g3" x="990" y="103">0.00%</tspan></text>
</g>

<g id="row28" transform="translate(0,4013)">
<use href="#row4" x="31"/>
<rect class="pk" x="31" y="-11" width="960" height="82"/>
<text class="tp" y="-20"><tspan x="31">♩=112</tspan><tspan x="871">♩=106</tspan></text>
<text class="mn" y="-8"><tspan x="31">111</tspan><tspan x="271">112</tspan><tspan x="511">113</tspan><tspan x="751">114</tspan></text>
<use href="#nG" x="31"/><use href="#nG" x="46"/><use href="#nG" x="61"/><use href="#nG" x="76"/><use href="#nG" x="91"/><use href="#nG" x="106"/><use href="#nG" x="121"/><use href="#nG" x="136"/><use href="#nG" x="151"/><use href="#nG" x="166"/><use href="#nG" x="181"/><use href="#nG" x="196"/><use href="#nG" x="211"/><use href="#nG" x="226"/><use href="#nG" x="241"/><use href="#nG" x="256"/>
<use href="#nG" x="271"/><use href="#nG" x="286"/><use href="#nG" x="301"/><use href="#nG" x="316"/><use href="#nG" x="331"/><use href="#nG" x="346"/><use href="#nG" x="361"/><use href="#nG" x="376"/><use href="#nG" x="391"/><use href="#nG" x="406"/><use href="#nG" x="421"/><use href="#nG" x="436"/><use href="#nG" x="451"/><use href="#nG" x="466"/><use href="#nG" x="481"/><use href="#nG" x="496"/>
<use href="#nG" x="511"/><use href="#nG" x="526"/><use href="#nG" x="541"/><use href="#nG" x="556"/><use href="#nG" x="571"/><use href="#nG" x="586"/><use href="#nG" x="601"/><use href="#nG" x="616"/><use href="#nG" x="631"/><use href="#nG" x="646"/><use href="#nG" x="661"/><use href="#nG" x="676"/><use href="#nG" x="691"/><use href="#nG" x="706"/><use href="#nG" x="721"/><use href="#nG" x="736"/>
<use href="#nG" x="751"/><use href="#nG" x="766"/><use href="#nG" x="781"/><use href="#nG" x="796"/><use href="#nG" x="811"/><use href="#nG" x="826"/><use href="#nG" x="841"/><use href="#nG" x="856"/><use href="#nG" x="871"/><use href="#nG" x="886"/><use href="#nG" x="901"/><use href="#nG" x="916"/><use href="#nG" x="931"/><use href="#nG" x="946"/><use href="#nG" x="961"/><use href="#nG" x="976"/>
<text class="sc"><tspan class="g1" x="270" y="76">0</tspan><tspan class="g2" x="270" y="89">88587</tspan><tspan class="g3" x="270" y="103">0.00%</tspan><tspan class="g1" x="510" y="76">0</tspan><tspan class="g2" x="510" y="89">88587</tspan><tspan class="g3" x="510" y="103">0.00%</tspan><tspan class="g1" x="750" y="76">0</tspan><tspan class="g2" x="750" y="89">88587</tspan><tspan class="g3" x="750" y="103">0.00%</tspan><tspan class="g1" x="990" y="76">0</tspan><tspan class="g2" x="990" y="89">88587</tspan><tspan class="g3" x="990" y="103">0.00%</tspan></text>
</g>

<g id="row29" transform="translate(0,4154)">
<use href="#g4" x="31"/>
<rect x="31" width="240" height="60" fill="none" stroke="#000"/>
<rect class="pk" x="31" y="-11" width="60" height="82"/>
<text class="tp" y="-20"><tspan x="31">♩=136</tspan><tspan x="151">♩=135</tspan></text>
<text class="mn" y="-8"><tspan x="31">115</tspan></text>
<use href="#nG" x="31"/><use href="#nG" x="46"/><use href="#nG" x="211"/>
<text class="sc"><tspan class="g1" x="270" y="76">0</tspan><tspan class="g2" x="270" y="89">93873</tspan><tspan class="g3" x="270" y="103">0.00%</tspan></text>
</g>
</g>
</svg>
